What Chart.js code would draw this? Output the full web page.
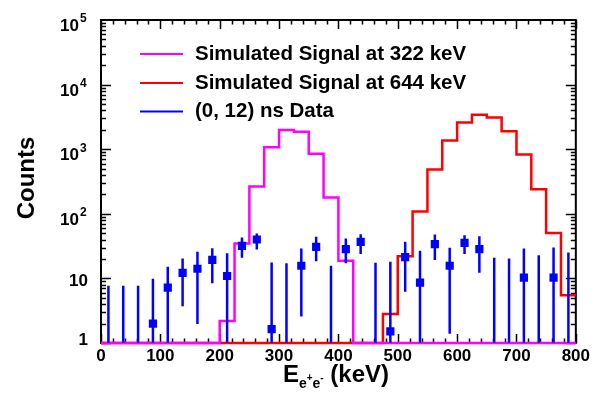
<!DOCTYPE html>
<html>
<head>
<meta charset="utf-8">
<script src="https://cdn.jsdelivr.net/npm/chart.js@4.4.1/dist/chart.umd.min.js"></script>
<style>
  html, body { margin: 0; padding: 0; background: #fff; }
</style>
</head>
<body>
<canvas id="spec" width="593" height="401"></canvas>
<script>
'use strict';

// 25 keV bins from 0 to 800 keV
const binEdges = [0, 25, 50, 75, 100, 125, 150, 175, 200, 225, 250, 275, 300, 325, 350, 375,
  400, 425, 450, 475, 500, 525, 550, 575, 600, 625, 650, 675, 700, 725, 750, 775, 800];
const binCenters = [12.5, 37.5, 62.5, 87.5, 112.5, 137.5, 162.5, 187.5, 212.5, 237.5, 262.5, 287.5,
  312.5, 337.5, 362.5, 387.5, 412.5, 437.5, 462.5, 487.5, 512.5, 537.5, 562.5, 587.5,
  612.5, 637.5, 662.5, 687.5, 712.5, 737.5, 762.5, 787.5];

// simulated signal, 322 keV (0 = empty bin)
const sig322 = [0, 0, 0, 0, 0, 0, 0, 0, 2.2, 34.7, 265, 1070, 1980, 1865, 847, 178,
  18.7, 0, 0, 0, 0, 0, 0, 0, 0, 0, 0, 0, 0, 0, 0, 0];
// simulated signal, 644 keV
const sig644 = [0, 0, 0, 0, 0, 0, 0, 0, 0, 0, 0, 0, 0, 0, 0, 0,
  0, 0, 0, 2.8, 22.1, 109, 485, 1360, 2600, 3410, 3100, 1890, 826, 239, 50.6, 5.5];

// (0, 12) ns data, null = no marker
const dataCounts = [null, null, null, 2.0, 7.2, 12.2, 14.1, 19.4, 10.9, 31.9, 40, 1.64,
  null, 15.7, 30.8, null, 28.4, 36.8, null, 1.51, 21.4, 8.6, 33.9, 15.7,
  35.5, 28.4, null, null, 10.3, null, 10.3, null];
const dataErrLow = [1, 1, 1, 1, 1, 3.7, 1.96, 8.4, 1, 20.8, 28.1, 1,
  1, 2.57, 18.5, 1, 17.1, 23.8, 1, 1, 6.2, 1, 19.2, 1.39,
  23.8, 12.2, 1, 1, 1, 1, 1, 1];
const dataErrHigh = [7.7, 7.7, 7.7, 9.9, 15.1, 20.4, 25.8, 29.4, 24.4, 43, 49.5, 17.7,
  17.1, 29.1, 44, 15.7, 41.5, 48.3, 17.5, 18.1, 36.8, 26.7, 47.8, 29.7,
  46.6, 45, 20.8, 20.4, 29.1, 22.9, 30.1, 25.2];

const yDecades = [0, 1, 2, 3, 4, 5];
const legendLabels = ['Simulated Signal at 322 keV', 'Simulated Signal at 644 keV', '(0, 12) ns Data'];
const legendColors = ['#ff00ff', '#ff0000', '#0000ff'];

const FONT = '"Liberation Sans", Arial, Helvetica, sans-serif';

const histPoints = function(vals) {
  let pts = [];
  for (let i = 0; i < vals.length; i++) {
    pts.push({ x: binEdges[i], y: vals[i] > 1 ? vals[i] : 1 });
  }
  pts.push({ x: binEdges[binEdges.length - 1], y: pts[pts.length - 1].y });
  return pts;
};

const dataPoints = binCenters.map((x, i) => ({ x: x, y: dataCounts[i] }));

const framePlugin = {
  id: 'frame',
  beforeDatasetsDraw(chart) {
    const ctx = chart.ctx;
    const a = chart.chartArea;
    const xs = chart.scales.x;
    const ys = chart.scales.y;
    ctx.save();
    ctx.strokeStyle = '#000';
    ctx.lineWidth = 2;
    ctx.strokeRect(a.left, a.top, a.right - a.left, a.bottom - a.top);
    ctx.lineWidth = 1.5;
    ctx.beginPath();
    for (let v = 0; v <= 800; v += 20) {
      const px = Math.round(xs.getPixelForValue(v)) + 0.5;
      const len = v % 100 === 0 ? 9 : 4.5;
      ctx.moveTo(px, a.bottom); ctx.lineTo(px, a.bottom - len);
      ctx.moveTo(px, a.top); ctx.lineTo(px, a.top + len);
    }
    for (let d = 0; d < 5; d++) {
      for (let m = 1; m <= 9; m++) {
        const py = Math.round(ys.getPixelForValue(m * Math.pow(10, d))) + 0.5;
        const len = m === 1 ? 10 : 5;
        ctx.moveTo(a.left, py); ctx.lineTo(a.left + len, py);
        ctx.moveTo(a.right, py); ctx.lineTo(a.right - len, py);
      }
    }
    ctx.stroke();
    ctx.restore();
  },
  afterDatasetsDraw(chart) {
    const ctx = chart.ctx;
    const a = chart.chartArea;
    const xs = chart.scales.x;
    const ys = chart.scales.y;
    ctx.save();
    ctx.beginPath();
    ctx.rect(a.left, a.top, a.right - a.left, a.bottom - a.top);
    ctx.clip();
    ctx.strokeStyle = '#0000ff';
    ctx.lineWidth = 2.5;
    ctx.beginPath();
    for (let i = 0; i < binCenters.length; i++) {
      const px = xs.getPixelForValue(binCenters[i]);
      ctx.moveTo(px, ys.getPixelForValue(dataErrLow[i]) + (dataErrLow[i] <= 1 ? 2 : 0));
      ctx.lineTo(px, ys.getPixelForValue(dataErrHigh[i]));
    }
    ctx.stroke();
    ctx.restore();
  },
  afterDraw(chart) {
    const ctx = chart.ctx;
    const ys = chart.scales.y;
    ctx.save();
    ctx.fillStyle = '#000';
    // y tick labels, 10^n
    ctx.textBaseline = 'middle';
    ctx.textAlign = 'right';
    yDecades.forEach(function(n) {
      const py = ys.getPixelForValue(Math.pow(10, n));
      ctx.font = 'bold 17px ' + FONT;
      if (n === 0) {
        ctx.fillText('1', 88, py - 3);
      } else if (n === 1) {
        ctx.fillText('10', 88, py + 3);
      } else {
        ctx.fillText('10', 79, py + 6.5);
        ctx.textAlign = 'left';
        ctx.font = 'bold 12px ' + FONT;
        ctx.fillText(String(n), 80, py - 1);
        ctx.textAlign = 'right';
      }
    });
    // y title
    ctx.save();
    ctx.translate(27, 178);
    ctx.rotate(-Math.PI / 2);
    ctx.textAlign = 'center';
    ctx.font = 'bold 24px ' + FONT;
    ctx.fillText('Counts', 0, 0);
    ctx.restore();
    // x title: E_{e+e-} (keV)
    ctx.textAlign = 'left';
    ctx.textBaseline = 'alphabetic';
    const big = 'bold 24px ' + FONT;
    const sub = 'bold 14px ' + FONT;
    const sup = 'bold 10px ' + FONT;
    const parts = [
      ['E', big, 0], ['e', sub, 6], ['+', sup, -1], ['e', sub, 6], ['-', sup, -1], [' (keV)', big, 0]
    ];
    let total = 0;
    parts.forEach(p => { ctx.font = p[1]; total += ctx.measureText(p[0]).width; });
    let cx = 336 - total / 2;
    parts.forEach(p => {
      ctx.font = p[1];
      ctx.fillText(p[0], cx, 382 + p[2]);
      cx += ctx.measureText(p[0]).width;
    });
    // legend
    ctx.textBaseline = 'middle';
    ctx.font = 'bold 20.5px ' + FONT;
    const rows = [54, 83, 111.5];
    legendLabels.forEach(function(lab, i) {
      ctx.strokeStyle = legendColors[i];
      ctx.lineWidth = 2;
      ctx.beginPath();
      ctx.moveTo(140, rows[i]);
      ctx.lineTo(183, rows[i]);
      ctx.stroke();
      ctx.fillStyle = '#000';
      ctx.fillText(lab, 195, rows[i]);
    });
    ctx.restore();
  }
};

new Chart(document.getElementById('spec').getContext('2d'), {
  type: 'line',
  data: {
    datasets: [{
      label: legendLabels[2],
      data: dataPoints,
      showLine: false,
      pointStyle: 'rect',
      pointRadius: 5.8,
      pointBackgroundColor: '#0000ff',
      pointBorderWidth: 0,
      borderColor: '#0000ff'
    }, {
      label: legendLabels[0],
      data: histPoints(sig322),
      stepped: true,
      borderColor: '#ff00ff',
      borderWidth: 2.5,
      pointRadius: 0,
      fill: false,
      clip: false
    }, {
      label: legendLabels[1],
      data: histPoints(sig644),
      stepped: true,
      borderColor: '#ff0000',
      borderWidth: 2.5,
      pointRadius: 0,
      fill: false,
      clip: false
    }]
  },
  options: {
    responsive: false,
    animation: false,
    events: [],
    layout: { padding: { left: 0, top: 20, right: 16.5, bottom: 0 } },
    plugins: { legend: { display: false }, tooltip: { enabled: false } },
    scales: {
      x: {
        type: 'linear',
        min: 0,
        max: 800,
        grid: { display: false, drawTicks: false },
        border: { display: false },
        ticks: {
          stepSize: 100,
          autoSkip: false,
          maxRotation: 0,
          padding: 3,
          color: '#000',
          font: { family: FONT, size: 17, weight: 'bold' }
        },
        afterFit(s) { s.height = 58; }
      },
      y: {
        type: 'logarithmic',
        min: 1,
        max: 100000,
        grid: { display: false, drawTicks: false },
        border: { display: false },
        ticks: { display: false },
        afterFit(s) { s.width = 101; }
      }
    }
  },
  plugins: [framePlugin]
});
</script>
</body>
</html>
